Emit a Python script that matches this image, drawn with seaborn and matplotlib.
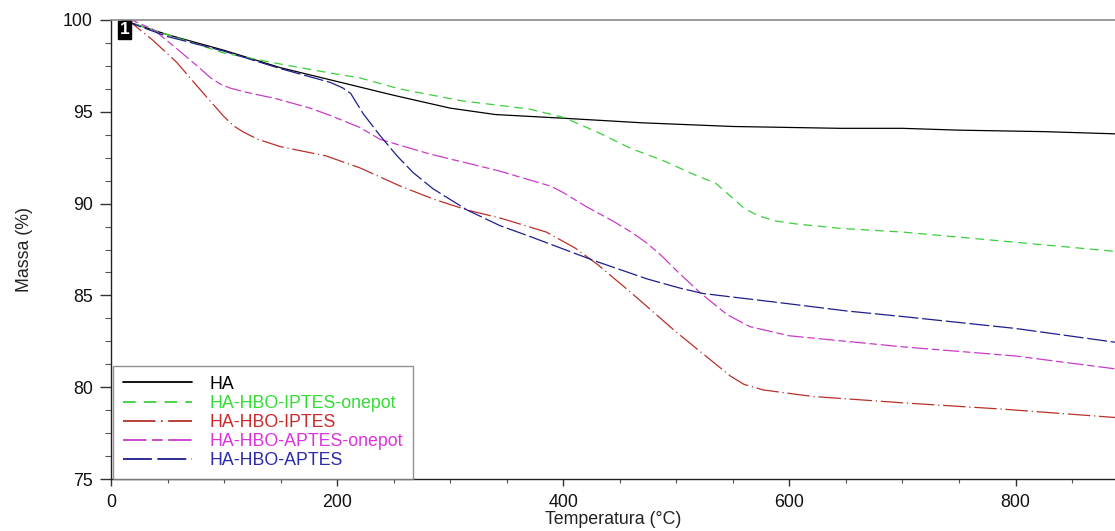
import numpy as np
import pandas as pd
import matplotlib
matplotlib.use("Agg")
import matplotlib.pyplot as plt
from matplotlib.ticker import MultipleLocator
import seaborn as sns

# ---------------- data ----------------
series_names = ["HA", "HA-HBO-IPTES-onepot", "HA-HBO-IPTES",
                "HA-HBO-APTES-onepot", "HA-HBO-APTES"]

ha_T = [10, 50, 100, 150, 200, 250, 300, 340, 400, 470, 550, 645, 700, 750, 825, 888]
ha_M = [100, 99.2, 98.35, 97.4, 96.65, 95.9, 95.2, 94.85, 94.65, 94.4, 94.2, 94.1,
        94.1, 94.0, 93.92, 93.8]

iptes_op_T = [10, 45, 100, 150, 195, 220, 255, 310, 370, 400, 430, 460, 490, 515,
              535, 548, 560, 572, 588, 605, 645, 700, 790, 888]
iptes_op_M = [100, 99.3, 98.2, 97.6, 97.1, 96.85, 96.25, 95.6, 95.15, 94.7, 93.9,
              93.0, 92.3, 91.6, 91.1, 90.4, 89.75, 89.35, 89.05, 88.9, 88.65, 88.45,
              87.95, 87.4]

iptes_T = [10, 17, 37, 58, 79, 99, 108, 117, 130, 150, 190, 220, 256, 285, 315, 345,
           385, 410, 430, 460, 500, 520, 548, 560, 577, 620, 700, 790, 888]
iptes_M = [100, 99.9, 98.9, 97.7, 96.2, 94.8, 94.25, 93.9, 93.5, 93.1, 92.6, 91.95,
           90.95, 90.25, 89.65, 89.2, 88.45, 87.6, 86.7, 85.15, 83.0, 82.0, 80.6,
           80.15, 79.85, 79.5, 79.15, 78.8, 78.35]

aptes_op_T = [10, 20, 37, 58, 79, 88, 97, 105, 117, 147, 176, 194, 220, 238, 282, 342,
              389, 400, 420, 444, 460, 474, 488, 501, 521, 545, 565, 600, 700, 800, 888]
aptes_op_M = [100, 99.95, 99.5, 98.45, 97.35, 96.85, 96.5, 96.3, 96.1, 95.7, 95.2,
              94.8, 94.15, 93.5, 92.7, 91.8, 90.95, 90.6, 89.85, 89.05, 88.45, 87.85,
              87.1, 86.3, 85.15, 83.95, 83.3, 82.8, 82.2, 81.7, 81.0]

aptes_T = [10, 50, 100, 150, 194, 205, 212, 223, 238, 253, 267, 285, 315, 344, 371,
           427, 474, 503, 524, 592, 651, 700, 800, 888]
aptes_M = [100, 99.1, 98.3, 97.35, 96.6, 96.3, 96.0, 94.9, 93.7, 92.6, 91.7, 90.8,
           89.65, 88.8, 88.2, 86.9, 85.9, 85.4, 85.1, 84.6, 84.15, 83.85, 83.2, 82.45]

x_ticks = [0, 200, 400, 600, 800]
y_ticks = [75, 80, 85, 90, 95, 100]

# ---------------- style ----------------
sns.set_theme(style="ticks")
plt.rcParams['font.family'] = ['Liberation Sans', 'DejaVu Sans']

line_colors = ["#000000", "#3ccf3c", "#b8302a", "#c83cc8", "#1e1e8c"]
text_colors = ["#000000", "#33dd33", "#cc2a2a", "#dd33dd", "#2a2aaa"]
line_styles = ["-", (0, (7, 4.5)), (0, (18, 3, 1, 3)), (0, (13, 3, 6, 3)), (0, (16, 3))]

FS = 12.8

fig = plt.figure(figsize=(11.15, 5.31), dpi=100)
ax = fig.add_axes([111 / 1115, 52 / 531, 1004 / 1115, 459 / 531])

all_T = [ha_T, iptes_op_T, iptes_T, aptes_op_T, aptes_T]
all_M = [ha_M, iptes_op_M, iptes_M, aptes_op_M, aptes_M]

for name, T, M, c, ls in zip(series_names, all_T, all_M, line_colors, line_styles):
    df = pd.DataFrame({"T": T, "M": M})
    sns.lineplot(data=df, x="T", y="M", ax=ax, color=c, linewidth=0.9,
                 label=name, sort=True, errorbar=None)
    ax.lines[-1].set_linestyle(ls)

ax.set_xlim(0, 888)
ax.set_ylim(75, 100)
ax.set_xticks(x_ticks)
ax.set_yticks(y_ticks)
ax.xaxis.set_minor_locator(MultipleLocator(50))
ax.yaxis.set_minor_locator(MultipleLocator(1.25))
ax.tick_params(axis="y", which="major", direction="out", length=8, width=1,
               color="#333333", labelsize=FS, labelcolor="#111111", pad=5)
ax.tick_params(axis="y", which="minor", direction="out", length=4, width=0.8,
               color="#555555")
ax.tick_params(axis="x", which="major", direction="out", length=5, width=1,
               color="#333333", labelsize=FS, labelcolor="#111111", pad=5.5)
ax.tick_params(axis="x", which="minor", direction="out", length=3, width=0.8,
               color="#555555")

for side in ["left", "bottom"]:
    ax.spines[side].set_color("#222222")
    ax.spines[side].set_linewidth(1.0)
ax.spines["top"].set_visible(True)
ax.spines["top"].set_color("#888888")
ax.spines["top"].set_linewidth(1.2)
ax.spines["right"].set_visible(False)

ax.set_xlabel("Temperatura (°C)", fontsize=FS, color="#222222", labelpad=0)
ax.set_ylabel("Massa (%)", fontsize=FS, color="#222222", labelpad=22)

# "1" marker box
ax.text(0.0085, 0.995, "1", transform=ax.transAxes, ha="left", va="top",
        fontsize=12.5, fontweight="bold", color="white",
        bbox=dict(boxstyle="square,pad=0.1", facecolor="black", edgecolor="black"))

leg = ax.legend(loc="lower left", bbox_to_anchor=(0.002, 0.0), borderaxespad=0,
                fontsize=FS, handlelength=3.9, handletextpad=1.0, labelspacing=0.12,
                frameon=True, fancybox=False, borderpad=0.55)
leg.get_frame().set_edgecolor("#777777")
leg.get_frame().set_linewidth(1.0)
for txt, tc in zip(leg.get_texts(), text_colors):
    txt.set_color(tc)
for h in leg.get_lines():
    h.set_linewidth(1.3)

fig.savefig("out.png", dpi=100)
